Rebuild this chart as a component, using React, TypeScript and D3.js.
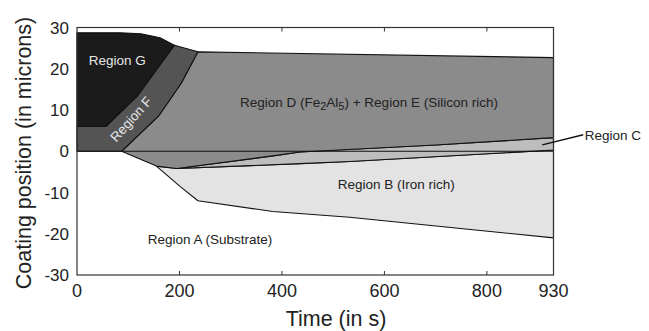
import React from "react";
import * as d3 from "d3";

const W = 649;
const H = 331;

const xTicks = [0, 200, 400, 600, 800, 930];
const yTicks = [30, 20, 10, 0, -10, -20, -30];

// boundaries: [time (s), coating position (microns)]
const outerTop: [number, number][] = [[0, 28.7], [84, 28.7], [125, 28.5], [162, 27.5], [190, 25.7], [236, 24.1], [930, 22.7]];
const gfBoundary: [number, number][] = [[0, 6], [56, 6], [117, 13.3], [190, 25.7]];
const fdBoundary: [number, number][] = [[87, 0], [159, 8.5], [204, 16.6], [236, 24.1]];
const dBottom: [number, number][] = [[87, 0], [155, -3.6], [195, -4.2], [389, -1.0], [435, -0.2], [700, 1.5], [930, 3.3]];
const cBottom: [number, number][] = [[195, -4.2], [435, -3.0], [532, -2.5], [930, 0.3]];
const abBoundary: [number, number][] = [[155, -3.6], [201, -8.5], [236, -12.0], [382, -14.6], [532, -16.0], [930, -21.0]];

const regionColors = { G: "#1b1b1b", F: "#545454", D: "#8b8b8b", C: "#bdbdbd", B: "#e3e3e3" };

const FONT = "Arial, 'Liberation Sans', Helvetica, sans-serif";

export default function App() {
  const x = d3.scaleLinear().domain([0, 930]).range([77, 553.5]);
  const y = d3.scaleLinear().domain([-30, 30]).range([275, 27.5]);
  const line = d3
    .line<[number, number]>()
    .x((d) => x(d[0]))
    .y((d) => y(d[1]));
  const poly = (pts: [number, number][]) => (line(pts) || "") + "Z";
  const rev = (a: [number, number][]) => [...a].reverse();

  const gPoly: [number, number][] = [...outerTop.filter((p) => p[0] <= 190), ...rev(gfBoundary)];
  const fPoly: [number, number][] = [[0, 0], ...gfBoundary, ...outerTop.filter((p) => p[0] > 190 && p[0] <= 236), ...rev(fdBoundary)];
  const dPoly: [number, number][] = [...fdBoundary, ...outerTop.filter((p) => p[0] > 236), ...rev(dBottom)];
  const cPoly: [number, number][] = [...dBottom.filter((p) => p[0] >= 195), ...rev(cBottom)];
  const bPoly: [number, number][] = [
    ...dBottom.filter((p) => p[0] >= 155 && p[0] <= 195),
    ...cBottom.filter((p) => p[0] > 195),
    ...rev(abBoundary),
  ];

  const [x0, x1] = x.range();
  const [yb, yt] = y.range();

  return (
    <svg width={W} height={H} style={{ position: "absolute", left: 0, top: 0, background: "#fff" }} fontFamily={FONT}>
      <rect x={0} y={0} width={W} height={H} fill="#fff" />
      <g stroke="#111" strokeWidth={1.1} strokeLinejoin="round">
        <path d={poly(bPoly)} fill={regionColors.B} />
        <path d={poly(cPoly)} fill={regionColors.C} />
        <path d={poly(dPoly)} fill={regionColors.D} />
        <path d={poly(fPoly)} fill={regionColors.F} />
        <path d={poly(gPoly)} fill={regionColors.G} />
      </g>
      {/* zero line */}
      <line x1={x(0)} x2={x(930)} y1={y(0)} y2={y(0)} stroke="#111" strokeWidth={1.1} />

      {/* frame */}
      <rect x={x0} y={yt} width={x1 - x0} height={yb - yt} fill="none" stroke="#333" strokeWidth={1.2} />
      {xTicks
        .filter((t) => t > 0 && t < 930)
        .map((t) => (
          <g key={t} stroke="#333" strokeWidth={1}>
            <line x1={x(t)} x2={x(t)} y1={yb} y2={yb - 4} />
            <line x1={x(t)} x2={x(t)} y1={yt} y2={yt + 4} />
          </g>
        ))}

      {/* tick labels */}
      {xTicks.map((t) => (
        <text key={t} x={x(t)} y={297} textAnchor="middle" fontSize={18} fill="#222">
          {t}
        </text>
      ))}
      {yTicks.map((t) => (
        <text key={t} x={69} y={y(t) + 6} textAnchor="end" fontSize={17} fill="#222">
          {t}
        </text>
      ))}

      {/* axis labels */}
      <text x={336} y={326} textAnchor="middle" fontSize={21.5} fill="#222">
        Time (in s)
      </text>
      <text transform={`translate(31,153) rotate(-90)`} textAnchor="middle" fontSize={21.5} fill="#222">
        Coating position (in microns)
      </text>

      {/* region labels */}
      <text x={x(23)} y={y(21.0)} fontSize={13.5} fill="#e6e6e6">
        Region G
      </text>
      <text transform={`translate(${x(107)},${y(7.6)}) rotate(-48)`} textAnchor="middle" dominantBaseline="middle" fontSize={13.5} fill="#e6e6e6">
        Region F
      </text>
      <text x={x(318)} y={y(10.7)} fontSize={13.5} fill="#222">
        Region D (Fe<tspan dy={3} fontSize={11}>2</tspan><tspan dy={-3}>Al</tspan><tspan dy={3} fontSize={11}>5</tspan><tspan dy={-3}>) + Region E (Silicon rich)</tspan>
      </text>
      <text x={x(509)} y={y(-9.2)} fontSize={13.5} fill="#222">
        Region B (Iron rich)
      </text>
      <text x={x(138)} y={y(-22.5)} fontSize={13.5} fill="#222">
        Region A (Substrate)
      </text>
      <line x1={x(908)} y1={y(1.55)} x2={x(988)} y2={y(4.0)} stroke="#111" strokeWidth={1.3} />
      <text x={x(991)} y={y(2.8)} fontSize={13.5} fill="#222">
        Region C
      </text>
    </svg>
  );
}
